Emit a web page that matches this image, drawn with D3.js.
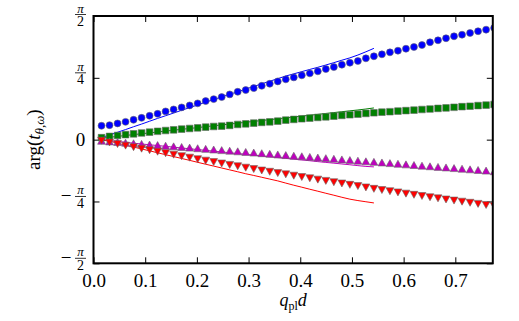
<!DOCTYPE html>
<html>
<head>
<meta charset="utf-8">
<script src="https://cdn.jsdelivr.net/npm/d3@7"></script>
<style>
    body { margin: 0; background: #fff; }
    svg { display: block; }
    svg text { font-family: "Liberation Serif", "DejaVu Serif", serif; fill: #000; }
</style>
</head>
<body>
<div id="chart"></div>
<script>
// sampled q_pl d values (markers); the solid lines use the first 35
const qd = [0.0155, 0.031, 0.0465, 0.062, 0.0775, 0.093, 0.1085, 0.124, 0.1395, 0.155,
    0.1705, 0.186, 0.2015, 0.217, 0.2325, 0.248, 0.2635, 0.279, 0.2945, 0.31,
    0.3255, 0.341, 0.3565, 0.372, 0.3875, 0.403, 0.4185, 0.434, 0.4495, 0.465,
    0.4805, 0.496, 0.5115, 0.527, 0.5425, 0.558, 0.5735, 0.589, 0.6045, 0.62,
    0.6355, 0.651, 0.6665, 0.682, 0.6975, 0.713, 0.7285, 0.744, 0.7595, 0.775];

// marker series, arg(t) in radians
const blueDots = [0.176, 0.184, 0.206, 0.226, 0.252, 0.277, 0.303, 0.328, 0.359, 0.384,
    0.410, 0.435, 0.461, 0.490, 0.515, 0.541, 0.575, 0.608, 0.630, 0.655,
    0.684, 0.710, 0.740, 0.766, 0.791, 0.817, 0.842, 0.868, 0.897, 0.922,
    0.952, 0.977, 0.999, 1.033, 1.059, 1.084, 1.109, 1.130, 1.155, 1.177,
    1.202, 1.237, 1.262, 1.288, 1.313, 1.333, 1.355, 1.377, 1.397, 1.419];
const greenSquares = [0.025, 0.041, 0.053, 0.064, 0.074, 0.085, 0.095, 0.106, 0.116, 0.125,
    0.134, 0.142, 0.150, 0.159, 0.167, 0.172, 0.181, 0.193, 0.201, 0.210,
    0.219, 0.226, 0.235, 0.248, 0.257, 0.265, 0.274, 0.282, 0.290, 0.299,
    0.308, 0.316, 0.324, 0.333, 0.341, 0.349, 0.355, 0.363, 0.369, 0.375,
    0.383, 0.389, 0.397, 0.403, 0.411, 0.419, 0.425, 0.433, 0.439, 0.447];
const magentaUp = [-0.014, -0.022, -0.030, -0.038, -0.046, -0.054, -0.062, -0.069, -0.077, -0.085,
    -0.093, -0.101, -0.109, -0.117, -0.125, -0.133, -0.140, -0.148, -0.156, -0.164,
    -0.172, -0.180, -0.188, -0.196, -0.204, -0.211, -0.219, -0.227, -0.235, -0.243,
    -0.251, -0.259, -0.267, -0.275, -0.282, -0.290, -0.298, -0.306, -0.314, -0.322,
    -0.330, -0.338, -0.346, -0.353, -0.361, -0.369, -0.377, -0.385, -0.393, -0.401];
const redDown = [-0.013, -0.036, -0.056, -0.076, -0.095, -0.115, -0.134, -0.153, -0.172, -0.191,
    -0.210, -0.229, -0.248, -0.267, -0.285, -0.303, -0.321, -0.338, -0.356, -0.374,
    -0.392, -0.408, -0.425, -0.441, -0.458, -0.475, -0.491, -0.508, -0.524, -0.541,
    -0.557, -0.574, -0.590, -0.607, -0.625, -0.640, -0.655, -0.670, -0.686, -0.701,
    -0.716, -0.732, -0.746, -0.760, -0.774, -0.788, -0.802, -0.816, -0.830, -0.842];

// solid-line series (35 points each)
const blueLine = [0.025, 0.060, 0.094, 0.128, 0.164, 0.198, 0.234, 0.270, 0.304, 0.338,
    0.373, 0.407, 0.441, 0.476, 0.510, 0.543, 0.576, 0.609, 0.642, 0.676,
    0.709, 0.742, 0.775, 0.808, 0.836, 0.864, 0.892, 0.919, 0.948, 0.978,
    1.009, 1.039, 1.075, 1.116, 1.160];
const greenLine = [0.019, 0.030, 0.041, 0.053, 0.064, 0.075, 0.086, 0.097, 0.109, 0.120,
    0.131, 0.142, 0.153, 0.165, 0.176, 0.187, 0.198, 0.209, 0.221, 0.232,
    0.243, 0.254, 0.265, 0.277, 0.288, 0.299, 0.310, 0.321, 0.333, 0.344,
    0.355, 0.366, 0.377, 0.389, 0.403];
const magentaLine = [-0.004, -0.014, -0.024, -0.034, -0.045, -0.055, -0.065, -0.075, -0.085, -0.095,
    -0.106, -0.116, -0.126, -0.136, -0.146, -0.156, -0.167, -0.177, -0.187, -0.197,
    -0.207, -0.218, -0.228, -0.238, -0.248, -0.258, -0.268, -0.279, -0.289, -0.299,
    -0.309, -0.319, -0.330, -0.340, -0.346];
const redLine = [-0.004, -0.019, -0.045, -0.070, -0.094, -0.118, -0.142, -0.167, -0.191, -0.215,
    -0.239, -0.263, -0.288, -0.312, -0.336, -0.360, -0.384, -0.408, -0.433, -0.455,
    -0.478, -0.501, -0.524, -0.552, -0.579, -0.604, -0.630, -0.655, -0.681, -0.706,
    -0.732, -0.756, -0.774, -0.789, -0.804];

const xTicks = [0, 0.1, 0.2, 0.3, 0.4, 0.5, 0.6, 0.7];
const yTicks = [-Math.PI / 2, -Math.PI / 4, 0, Math.PI / 4, Math.PI / 2];
const yTickLabels = [['−', 'π', '2'], ['−', 'π', '4'], ['', '0', ''], ['', 'π', '4'], ['', 'π', '2']];

const W = 519, H = 321;
const margin = { top: 16, right: 26.2, bottom: 57.7, left: 93.5 };
const w = W - margin.left - margin.right;
const h = H - margin.top - margin.bottom;
const serif = '"Liberation Serif", "DejaVu Serif", serif';

const x = d3.scaleLinear().domain([0, 0.7725]).range([0, w]);
const y = d3.scaleLinear().domain([-Math.PI / 2, Math.PI / 2]).range([h, 0]);

const svg = d3.select('#chart').append('svg')
    .attr('width', W)
    .attr('height', H);

svg.append('defs').append('clipPath').attr('id', 'plotclip')
    .append('rect').attr('width', w).attr('height', h);

const g = svg.append('g')
    .attr('transform', `translate(${margin.left},${margin.top})`);

// ticks, all pointing inward
const tickLen = 6;
const axisB = g.append('g').attr('transform', `translate(0,${h})`)
    .call(d3.axisBottom(x).tickValues(xTicks).tickSize(-tickLen).tickPadding(10).tickFormat(d3.format('.1f')));
const axisT = g.append('g')
    .call(d3.axisTop(x).tickValues(xTicks).tickSize(-tickLen).tickFormat(''));
const axisL = g.append('g')
    .call(d3.axisLeft(y).tickValues(yTicks).tickSize(-tickLen).tickFormat(''));
const axisR = g.append('g').attr('transform', `translate(${w},0)`)
    .call(d3.axisRight(y).tickValues(yTicks).tickSize(-tickLen).tickFormat(''));

[axisB, axisT, axisL, axisR].forEach(a => {
    a.attr('font-family', serif).attr('font-size', 19);
    a.select('.domain').remove();
    a.selectAll('.tick line').attr('stroke', '#000').attr('stroke-width', 1);
});
axisB.selectAll('.tick text').attr('dy', null).attr('y', 23.5);

// y tick labels as stacked fractions
const yl = g.append('g').attr('font-family', serif);
yTicks.forEach((t, i) => {
    const [sign, num, den] = yTickLabels[i];
    const cy = y(t);
    const cx = -13;
    if (!den) {
        yl.append('text').attr('x', cx).attr('y', cy + 6.5)
            .attr('text-anchor', 'middle').attr('font-size', 19).text(num);
        return;
    }
    // the top label sits a little lower so it stays inside the page
    const barY = cy - 5 + (i === yTicks.length - 1 ? 3.5 : 0);
    yl.append('text').attr('x', cx).attr('y', barY - 2)
        .attr('text-anchor', 'middle').attr('font-size', 13).attr('font-style', 'italic').text(num);
    yl.append('line').attr('x1', cx - 5.5).attr('x2', cx + 5.5)
        .attr('y1', barY).attr('y2', barY).attr('stroke', '#000').attr('stroke-width', 0.8);
    yl.append('text').attr('x', cx).attr('y', barY + 11.5)
        .attr('text-anchor', 'middle').attr('font-size', 14).text(den);
    if (sign) {
        yl.append('text').attr('x', cx - 9).attr('y', barY + 6)
            .attr('text-anchor', 'end').attr('font-size', 19).text(sign);
    }
});

// data
const plot = g.append('g').attr('clip-path', 'url(#plotclip)');
const line = d3.line().x(d => x(d.q)).y(d => y(d.v));
const toPts = vals => vals.map((v, i) => ({ q: qd[i], v }));

const lines = [
    { id: 'blue', color: '#0000ff', vals: blueLine },
    { id: 'green', color: '#008000', vals: greenLine },
    { id: 'magenta', color: '#bf00bf', vals: magentaLine },
    { id: 'red', color: '#ff0000', vals: redLine }
];
plot.selectAll('.fit')
    .data(lines, d => d.id)
    .join('path')
    .attr('class', 'fit')
    .attr('fill', 'none')
    .attr('stroke', d => d.color)
    .attr('stroke-width', 1)
    .attr('d', d => line(toPts(d.vals)));

const tri = (up, s) => {
    const hw = s * 0.56, hh = s * 0.5;
    return up
        ? `M0,${-hh}L${hw},${hh}L${-hw},${hh}Z`
        : `M0,${hh}L${hw},${-hh}L${-hw},${-hh}Z`;
};
const markers = [
    { id: 'blue', color: '#0000ff', vals: blueDots, path: d3.symbol(d3.symbolCircle, 38)() },
    { id: 'green', color: '#008000', vals: greenSquares, path: d3.symbol(d3.symbolSquare, 44)() },
    { id: 'magenta', color: '#bf00bf', vals: magentaUp, path: tri(true, 7) },
    { id: 'red', color: '#ff0000', vals: redDown, path: tri(false, 7) }
];
markers.forEach(m => {
    plot.append('g').selectAll('path')
        .data(toPts(m.vals))
        .join('path')
        .attr('transform', d => `translate(${x(d.q)},${y(d.v)})`)
        .attr('d', m.path)
        .attr('fill', m.color)
        .attr('stroke', '#666')
        .attr('stroke-width', 0.6);
});

// frame
g.append('rect')
    .attr('width', w).attr('height', h)
    .attr('fill', 'none').attr('stroke', '#000').attr('stroke-width', 2);

// axis titles
const xt = svg.append('text')
    .attr('x', margin.left + w / 2).attr('y', 306)
    .attr('text-anchor', 'middle').attr('font-size', 18);
xt.append('tspan').attr('font-style', 'italic').text('q');
xt.append('tspan').attr('font-size', 12).attr('dy', 3.5).text('pl');
xt.append('tspan').attr('font-style', 'italic').attr('dy', -3.5).text('d');

const yt = svg.append('text')
    .attr('transform', `translate(39.5,${margin.top + h / 2}) rotate(-90)`)
    .attr('text-anchor', 'middle').attr('font-size', 19);
yt.append('tspan').text('arg(');
yt.append('tspan').attr('font-style', 'italic').text('t');
yt.append('tspan').attr('font-style', 'italic').attr('font-size', 13).attr('dy', 4.5).text('θ,ω');
yt.append('tspan').attr('dy', -4.5).text(')');
</script>
</body>
</html>
